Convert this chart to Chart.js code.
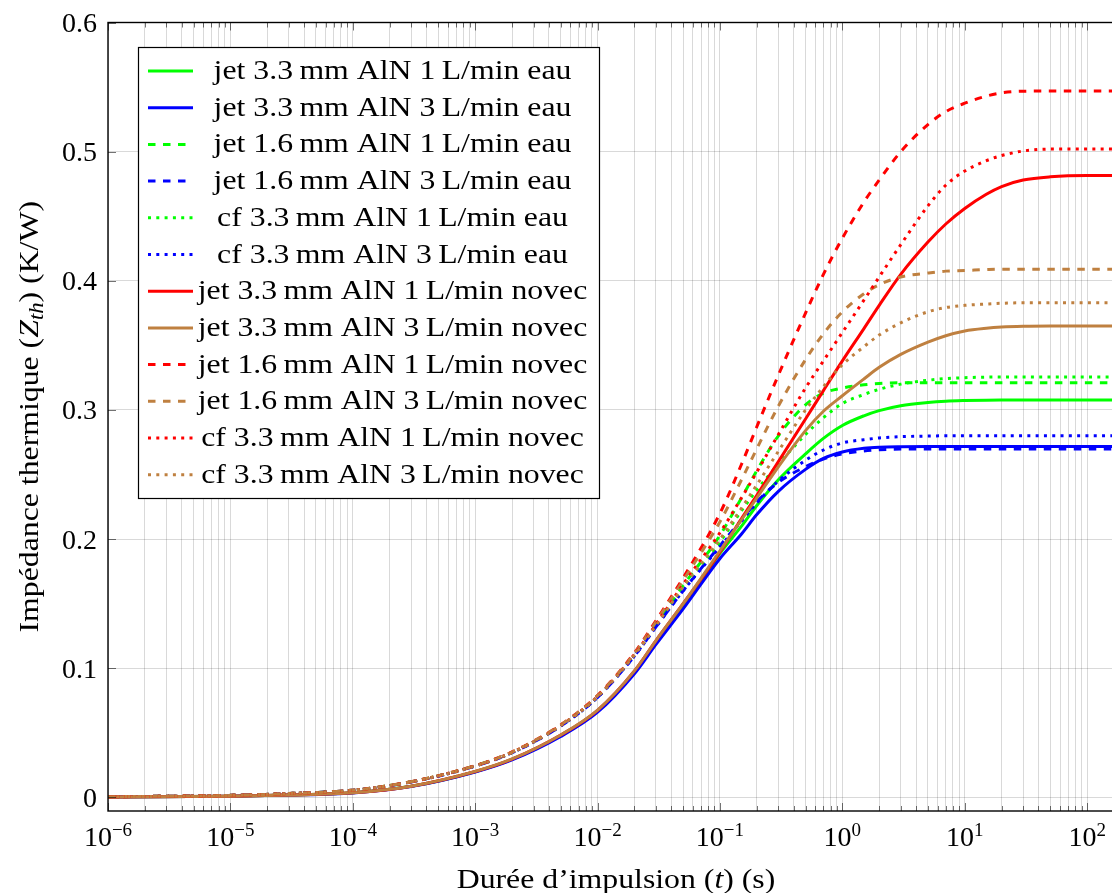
<!DOCTYPE html>
<html>
<head>
<meta charset="utf-8">
<script src="https://cdn.jsdelivr.net/npm/chart.js@4.4.1/dist/chart.umd.min.js"></script>
<style>
  html, body { margin: 0; padding: 0; background: #fff; overflow: hidden; }
  #wrap { position: relative; width: 1140px; height: 893px; }
</style>
</head>
<body>
<div id="wrap"><canvas id="zthChart" width="1140" height="893"></canvas></div>
<script>
// Impédance thermique en fonction de la durée d'impulsion (s)
const pulseDurations = [1e-6, 1e-5, 3e-5, 1e-4, 3e-4, 1e-3, 2e-3, 5e-3, 1e-2, 2e-2,
                        3e-2, 5e-2, 0.1, 0.15, 0.2, 0.3, 0.5, 0.7, 1, 1.5, 2, 3, 5, 7, 10, 15, 20, 30, 50, 100, 200];

// Eau
const zthJet33Eau1 = [0.0003, 0.001, 0.0018, 0.0036, 0.0086, 0.0199, 0.0294, 0.0478, 0.0668, 0.0968,
                      0.1195, 0.148, 0.189, 0.210, 0.226, 0.246, 0.266, 0.278, 0.288, 0.2955, 0.2995, 0.3033, 0.3058, 0.3068, 0.3073, 0.3076, 0.3077, 0.3078, 0.3078, 0.3078, 0.3078];
const zthJet33Eau3 = [0.0003, 0.001, 0.0018, 0.0035, 0.0084, 0.0196, 0.0290, 0.0472, 0.0660, 0.0958,
                      0.1185, 0.146, 0.185, 0.204, 0.219, 0.237, 0.254, 0.2625, 0.2675, 0.2703, 0.2712, 0.2716, 0.2717, 0.2717, 0.2717, 0.2717, 0.2717, 0.2717, 0.2717, 0.2717, 0.2717];
const zthJet16Eau1 = [0.0005, 0.0016, 0.0030, 0.0056, 0.0121, 0.0245, 0.0349, 0.0558, 0.0782, 0.1105,
                      0.134, 0.164, 0.203, 0.232, 0.253, 0.280, 0.304, 0.313, 0.317, 0.3195, 0.3205, 0.321, 0.321, 0.321, 0.321, 0.321, 0.321, 0.321, 0.321, 0.321, 0.321];
const zthJet16Eau3 = [0.0005, 0.0016, 0.0030, 0.0056, 0.0120, 0.0243, 0.0346, 0.0553, 0.0775, 0.1095,
                      0.132, 0.160, 0.195, 0.215, 0.229, 0.244, 0.256, 0.262, 0.266, 0.2683, 0.2692, 0.2697, 0.2698, 0.2698, 0.2698, 0.2698, 0.2698, 0.2698, 0.2698, 0.2698, 0.2698];
const zthCf33Eau1  = [0.0005, 0.0016, 0.0030, 0.0056, 0.0121, 0.0244, 0.0347, 0.0555, 0.0778, 0.1100,
                      0.133, 0.162, 0.198, 0.222, 0.238, 0.258, 0.281, 0.294, 0.305, 0.312, 0.316, 0.320, 0.323, 0.3243, 0.325, 0.3254, 0.3255, 0.3255, 0.3255, 0.3255, 0.3255];
const zthCf33Eau3  = [0.0005, 0.0016, 0.0030, 0.0056, 0.0120, 0.0243, 0.0346, 0.0553, 0.0775, 0.1095,
                      0.132, 0.160, 0.194, 0.214, 0.228, 0.245, 0.261, 0.269, 0.2745, 0.277, 0.2783, 0.2793, 0.2798, 0.280, 0.280, 0.280, 0.280, 0.280, 0.280, 0.280, 0.280];

// Novec
const zthJet33Nov1 = [0.0003, 0.001, 0.0018, 0.0036, 0.0087, 0.0201, 0.0297, 0.0483, 0.0675, 0.0980,
                      0.1215, 0.150, 0.190, 0.216, 0.234, 0.260, 0.293, 0.315, 0.338, 0.363, 0.381, 0.405, 0.430, 0.444, 0.456, 0.467, 0.473, 0.478, 0.4805, 0.4815, 0.4815];
const zthJet33Nov3 = [0.0003, 0.001, 0.0018, 0.0036, 0.0087, 0.0202, 0.0298, 0.0484, 0.0676, 0.0980,
                      0.1215, 0.150, 0.191, 0.215, 0.232, 0.256, 0.284, 0.299, 0.311, 0.324, 0.333, 0.343, 0.3525, 0.3575, 0.3612, 0.3633, 0.3642, 0.3648, 0.365, 0.365, 0.365];
const zthJet16Nov1 = [0.0005, 0.0016, 0.0030, 0.0056, 0.0122, 0.0246, 0.0352, 0.0563, 0.0790, 0.1120,
                      0.137, 0.170, 0.220, 0.258, 0.287, 0.327, 0.375, 0.405, 0.433, 0.461, 0.478, 0.500, 0.521, 0.531, 0.5375, 0.543, 0.5455, 0.5468, 0.547, 0.547, 0.547];
const zthJet16Nov3 = [0.0005, 0.0016, 0.0030, 0.0056, 0.0122, 0.0246, 0.0351, 0.0562, 0.0788, 0.1115,
                      0.136, 0.168, 0.2135, 0.246, 0.270, 0.303, 0.339, 0.359, 0.376, 0.390, 0.397, 0.403, 0.406, 0.4075, 0.408, 0.4087, 0.409, 0.409, 0.409, 0.409, 0.409];
const zthCf33Nov1  = [0.0005, 0.0016, 0.0030, 0.0056, 0.0121, 0.0245, 0.0349, 0.0558, 0.0782, 0.1108,
                      0.134, 0.165, 0.205, 0.232, 0.252, 0.281, 0.317, 0.338, 0.360, 0.385, 0.403, 0.428, 0.458, 0.474, 0.485, 0.493, 0.497, 0.5005, 0.502, 0.502, 0.502];
const zthCf33Nov3  = [0.0005, 0.0016, 0.0030, 0.0056, 0.0121, 0.0244, 0.0348, 0.0556, 0.0780, 0.1103,
                      0.133, 0.163, 0.200, 0.224, 0.242, 0.268, 0.300, 0.318, 0.335, 0.349, 0.358, 0.3675, 0.376, 0.3793, 0.381, 0.382, 0.3826, 0.383, 0.383, 0.383, 0.383];

const seriesLabels = [
  'jet 3.3\u2009mm AlN 1\u2009L/min eau',
  'jet 3.3\u2009mm AlN 3\u2009L/min eau',
  'jet 1.6\u2009mm AlN 1\u2009L/min eau',
  'jet 1.6\u2009mm AlN 3\u2009L/min eau',
  'cf 3.3\u2009mm AlN 1\u2009L/min eau',
  'cf 3.3\u2009mm AlN 3\u2009L/min eau',
  'jet 3.3\u2009mm AlN 1\u2009L/min novec',
  'jet 3.3\u2009mm AlN 3\u2009L/min novec',
  'jet 1.6\u2009mm AlN 1\u2009L/min novec',
  'jet 1.6\u2009mm AlN 3\u2009L/min novec',
  'cf 3.3\u2009mm AlN 1\u2009L/min novec',
  'cf 3.3\u2009mm AlN 3\u2009L/min novec'
];
const seriesValues = [zthJet33Eau1, zthJet33Eau3, zthJet16Eau1, zthJet16Eau3, zthCf33Eau1, zthCf33Eau3,
                      zthJet33Nov1, zthJet33Nov3, zthJet16Nov1, zthJet16Nov3, zthCf33Nov1, zthCf33Nov3];

const yTicks = [0, 0.1, 0.2, 0.3, 0.4, 0.5, 0.6];
const xDecades = [-6, -5, -4, -3, -2, -1, 0, 1, 2];

// styles (couleurs pgfplots)
const GREEN = '#00ff00', BLUE = '#0000ff', RED = '#ff0000', BROWN = '#bf8040';
const seriesColors = [GREEN, BLUE, GREEN, BLUE, GREEN, BLUE, RED, BROWN, RED, BROWN, RED, BROWN];
const seriesStyle = ['solid', 'solid', 'dashed', 'dashed', 'dotted', 'dotted',
                     'solid', 'solid', 'dashed', 'dashed', 'dotted', 'dotted'];
const dashPatterns = { solid: [], dashed: [7.5, 7.5], dotted: [3, 5.3] };
const LINE_W = 3;
const SERIF = '"Liberation Serif", "Times New Roman", serif';
const TEXT_SX = 1.135;   // élargit un peu le Times pour se rapprocher du Computer Modern

// grille log : décades + 2..9
const xGridValues = [];
for (const d of xDecades) {
  for (let m = 1; m <= 9; m++) {
    const v = m * Math.pow(10, d);
    if (v <= 200 * 1.0001) xGridValues.push({ value: v, major: m === 1 });
  }
}

// la dernière courbe tracée passe au-dessus (comme dans pgfplots)
const datasets = seriesValues.map((vals, i) => ({
  label: seriesLabels[i],
  data: pulseDurations.map((t, k) => ({ x: t, y: vals[k] })),
  borderColor: seriesColors[i],
  borderDash: dashPatterns[seriesStyle[i]],
  borderWidth: LINE_W,
  pointRadius: 0,
  fill: false,
  order: seriesValues.length - i,
  cubicInterpolationMode: 'monotone'
}));

// texte avec morceaux en italique / indice, étiré horizontalement de sx
function drawRich(ctx, parts, x, y, sx) {
  let total = 0;
  for (const p of parts) { ctx.font = p.font; p.w = ctx.measureText(p.text).width * sx; total += p.w; }
  let cx = x - total / 2;
  ctx.textAlign = 'left';
  for (const p of parts) {
    ctx.save();
    ctx.font = p.font;
    ctx.translate(cx, y + (p.dy || 0));
    ctx.scale(sx, 1);
    ctx.fillText(p.text, 0, 0);
    ctx.restore();
    cx += p.w;
  }
}

const pgfDecorations = {
  id: 'pgfDecorations',
  afterDraw(chart) {
    const { ctx, chartArea: a, scales } = chart;
    const xs = scales.x, ys = scales.y;
    ctx.save();

    // petites graduations
    ctx.strokeStyle = 'rgba(0,0,0,0.55)';
    ctx.lineWidth = 1;
    ctx.beginPath();
    for (const g of xGridValues) {
      const px = Math.round(xs.getPixelForValue(g.value)) + 0.5;
      const len = g.major ? 8 : 5;
      ctx.moveTo(px, a.bottom); ctx.lineTo(px, a.bottom - len);
      ctx.moveTo(px, a.top); ctx.lineTo(px, a.top + len);
    }
    for (const v of yTicks) {
      const py = Math.round(ys.getPixelForValue(v)) + 0.5;
      ctx.moveTo(a.left, py); ctx.lineTo(a.left + 8, py);
    }
    ctx.stroke();

    // cadre
    ctx.strokeStyle = '#000';
    ctx.lineWidth = 1.4;
    ctx.strokeRect(a.left, a.top, a.right - a.left, a.bottom - a.top);

    // étiquettes de l'axe y
    ctx.fillStyle = '#000';
    ctx.font = '28px ' + SERIF;
    ctx.textAlign = 'right';
    ctx.textBaseline = 'alphabetic';
    for (const v of yTicks) {
      const py = ys.getPixelForValue(v);
      ctx.fillText(v === 0 ? '0' : v.toFixed(1), 97, py + 9.5);
    }

    // étiquettes de l'axe x : 10^n
    for (const d of xDecades) {
      const px = xs.getPixelForValue(Math.pow(10, d));
      const sup = d < 0 ? '\u2212' + Math.abs(d) : String(d);
      drawRich(ctx, [
        { text: '10', font: '28px ' + SERIF },
        { text: sup, font: '19px ' + SERIF, dy: -10 }
      ], px, 846, 1);
    }

    // titre de l'axe x
    drawRich(ctx, [
      { text: 'Durée d\u2019impulsion (', font: '28px ' + SERIF },
      { text: 't', font: 'italic 28px ' + SERIF },
      { text: ') (s)', font: '28px ' + SERIF }
    ], (a.left + a.right) / 2, 888, TEXT_SX);

    // titre de l'axe y
    ctx.save();
    ctx.translate(38, (a.top + a.bottom) / 2);
    ctx.rotate(-Math.PI / 2);
    drawRich(ctx, [
      { text: 'Impédance thermique (', font: '28px ' + SERIF },
      { text: 'Z', font: 'italic 28px ' + SERIF },
      { text: 'th', font: 'italic 20px ' + SERIF, dy: 5 },
      { text: ') (K/W)', font: '28px ' + SERIF }
    ], 0, 0, TEXT_SX);
    ctx.restore();

    // légende
    const box = { left: 138.5, top: 47.5, right: 599.5, bottom: 498.5 };
    ctx.fillStyle = '#fff';
    ctx.fillRect(box.left, box.top, box.right - box.left, box.bottom - box.top);
    ctx.strokeStyle = '#000';
    ctx.lineWidth = 1.2;
    ctx.strokeRect(box.left, box.top, box.right - box.left, box.bottom - box.top);
    const rowH = 36.7;
    chart.data.datasets.forEach((ds, i) => {
      const ly = 71 + i * rowH;
      ctx.strokeStyle = ds.borderColor;
      ctx.lineWidth = LINE_W;
      ctx.setLineDash(ds.borderDash);
      ctx.beginPath();
      ctx.moveTo(148, ly); ctx.lineTo(193, ly);
      ctx.stroke();
      ctx.setLineDash([]);
      ctx.fillStyle = '#000';
      drawRich(ctx, [{ text: ds.label, font: '28px ' + SERIF }], 392.5, ly + 8, TEXT_SX);
    });

    ctx.restore();
  }
};

new Chart(document.getElementById('zthChart'), {
  type: 'line',
  data: { datasets },
  options: {
    responsive: false,
    animation: false,
    layout: { padding: { left: 108, top: 22.5, right: 16, bottom: 82 } },
    plugins: { legend: { display: false }, tooltip: { enabled: false } },
    scales: {
      x: {
        type: 'logarithmic',
        min: 1e-6,
        max: 200,
        afterBuildTicks: s => { s.ticks = xGridValues.map(g => ({ value: g.value })); },
        afterFit: s => { s.height = 0; },
        ticks: { display: false },
        grid: { color: 'rgba(0,0,0,0.15)', lineWidth: 1, drawTicks: false },
        border: { display: false }
      },
      y: {
        type: 'linear',
        min: -0.0105,
        max: 0.6,
        afterBuildTicks: s => { s.ticks = yTicks.map(v => ({ value: v })); },
        afterFit: s => { s.width = 0; },
        ticks: { display: false },
        grid: { color: 'rgba(0,0,0,0.15)', lineWidth: 1, drawTicks: false },
        border: { display: false }
      }
    }
  },
  plugins: [pgfDecorations]
});
</script>
</body>
</html>
